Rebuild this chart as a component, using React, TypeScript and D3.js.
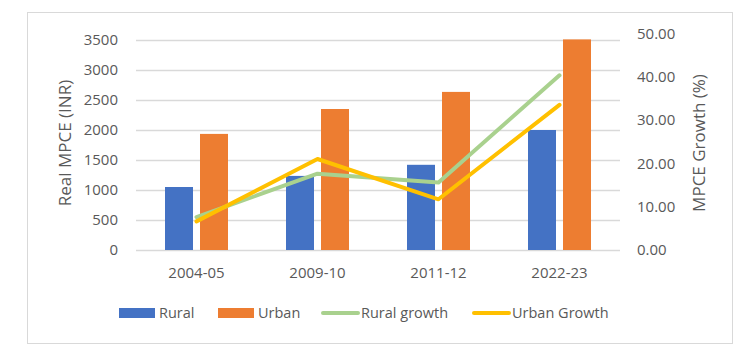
import { useEffect, useRef } from 'react';
import * as d3 from 'd3';

const years = ['2004-05', '2009-10', '2011-12', '2022-23'];
const rural = [1050, 1235, 1420, 2000];
const urban = [1935, 2350, 2635, 3510];
const ruralGrowth = [7.6, 17.6, 15.6, 40.3];
const urbanGrowth = [6.6, 21.0, 11.7, 33.5];
const leftTicks = [0, 500, 1000, 1500, 2000, 2500, 3000, 3500];
const rightTicks = [0, 10, 20, 30, 40, 50];

const W = 745, H = 354;
const FONT = '"Open Sans", "Noto Sans", sans-serif';
const TXT = '#595959';

function App() {
  const ref = useRef<SVGSVGElement>(null);

  useEffect(() => {
    const svg = d3.select(ref.current);
    svg.selectAll('*').remove();

    const left = 136, right = 620, bottom = 250;
    const x = d3.scaleBand().domain(years).range([left, right]);
    const y = d3.scaleLinear().domain([0, 3500]).range([bottom, 40]);
    const y2 = d3.scaleLinear().domain([0, 50]).range([bottom, 33.3]);

    svg.append('rect').attr('x', 27.5).attr('y', 12.5).attr('width', 705).attr('height', 331)
      .attr('fill', '#fff').attr('stroke', '#d9d9d9');

    // gridlines
    svg.append('g').selectAll('line').data(leftTicks).enter().append('line')
      .attr('x1', left).attr('x2', right)
      .attr('y1', d => Math.round(y(d)) + 0.5).attr('y2', d => Math.round(y(d)) + 0.5)
      .attr('stroke', '#d9d9d9').attr('stroke-width', 1.3);

    // left ticks
    svg.append('g').selectAll('text').data(leftTicks).enter().append('text')
      .attr('x', 118).attr('y', d => y(d)).attr('dy', '0.35em')
      .attr('text-anchor', 'end').style('font-size', '15px').style('fill', TXT)
      .text(d => d);

    // right ticks
    svg.append('g').selectAll('text').data(rightTicks).enter().append('text')
      .attr('x', 637).attr('y', d => y2(d)).attr('dy', '0.35em')
      .attr('text-anchor', 'start').style('font-size', '15px').style('fill', TXT)
      .text(d => d.toFixed(2));

    // category labels
    svg.append('g').selectAll('text').data(years).enter().append('text')
      .attr('x', d => x(d)! + x.bandwidth() / 2).attr('y', 273).attr('dy', '0.35em')
      .attr('text-anchor', 'middle').style('font-size', '15px').style('fill', TXT)
      .text(d => d);

    // axis titles
    svg.append('text').attr('transform', `translate(65,143) rotate(-90)`).attr('dy', '0.35em')
      .attr('text-anchor', 'middle').style('font-size', '17px').style('fill', TXT)
      .text('Real MPCE (INR)');
    svg.append('text').attr('transform', `translate(699,143) rotate(-90)`).attr('dy', '0.35em')
      .attr('text-anchor', 'middle').style('font-size', '17px').style('fill', TXT)
      .text('MPCE Growth (%)');

    // bars
    const bw = 28, gap = 7;
    const bars = svg.append('g');
    bars.selectAll('.r').data(years).enter().append('rect')
      .attr('x', d => x(d)! + x.bandwidth() / 2 - gap / 2 - bw).attr('width', bw)
      .attr('y', (d, i) => y(rural[i])).attr('height', (d, i) => bottom - y(rural[i]))
      .attr('fill', '#4472c4');
    bars.selectAll('.u').data(years).enter().append('rect')
      .attr('x', d => x(d)! + x.bandwidth() / 2 + gap / 2).attr('width', bw)
      .attr('y', (d, i) => y(urban[i])).attr('height', (d, i) => bottom - y(urban[i]))
      .attr('fill', '#ed7d31');

    const line = (vals: number[]) => d3.line<string>()
      .x(d => x(d)! + x.bandwidth() / 2)
      .y((d, i) => y2(vals[i]))(years);

    svg.append('path').attr('d', line(ruralGrowth)).attr('fill', 'none')
      .attr('stroke', '#a9d18e').attr('stroke-width', 4).attr('stroke-linejoin', 'round').attr('stroke-linecap', 'round');
    svg.append('path').attr('d', line(urbanGrowth)).attr('fill', 'none')
      .attr('stroke', '#ffc000').attr('stroke-width', 4).attr('stroke-linejoin', 'round').attr('stroke-linecap', 'round');

    // legend
    const ly = 313;
    const leg = [
      { label: 'Rural', color: '#4472c4', type: 'bar', x: 119 },
      { label: 'Urban', color: '#ed7d31', type: 'bar', x: 218 },
      { label: 'Rural growth', color: '#a9d18e', type: 'line', x: 321 },
      { label: 'Urban Growth', color: '#ffc000', type: 'line', x: 472 },
    ];
    const lg = svg.append('g');
    leg.forEach(l => {
      if (l.type === 'bar') {
        lg.append('rect').attr('x', l.x).attr('y', ly - 5).attr('width', 36).attr('height', 10).attr('fill', l.color);
      } else {
        lg.append('line').attr('x1', l.x + 2).attr('x2', l.x + 37).attr('y1', ly).attr('y2', ly)
          .attr('stroke', l.color).attr('stroke-width', 4).attr('stroke-linecap', 'round');
      }
      lg.append('text').attr('x', l.x + 40).attr('y', ly).attr('dy', '0.35em')
        .style('font-size', '14.5px').style('fill', TXT).text(l.label);
    });
  }, []);

  return (
    <svg ref={ref} width={W} height={H}
      style={{ position: 'absolute', left: 0, top: 0, fontFamily: FONT, background: '#fff' }} />
  );
}

export default App;
